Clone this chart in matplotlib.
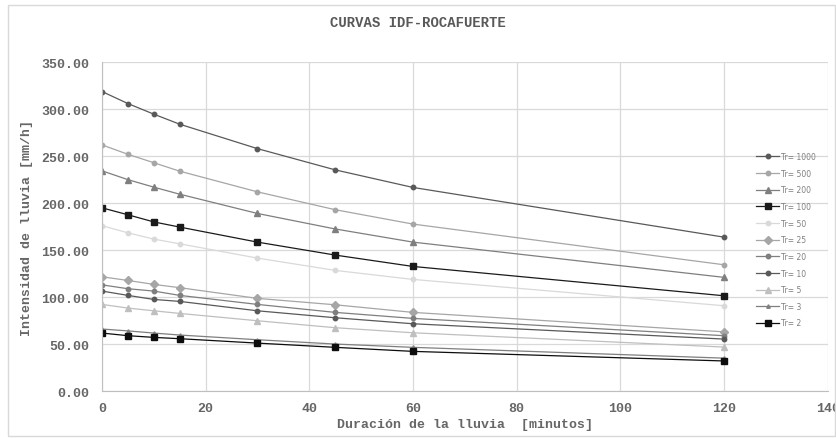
import numpy as np
import matplotlib.pyplot as plt
from matplotlib.patches import Rectangle

# Duraciones (minutos) e intensidades (mm/h) por periodo de retorno
duracion = [0, 5, 10, 15, 30, 45, 60, 120]

tr1000 = [318.8, 306.0, 294.7, 284.0, 258.0, 235.4, 216.7, 163.8]
tr500 = [262.0, 252.0, 243.0, 234.0, 212.0, 193.0, 177.7, 134.4]
tr200 = [234.4, 225.0, 217.0, 209.5, 189.0, 172.5, 158.5, 121.0]
tr100 = [195.0, 187.6, 180.0, 174.5, 158.5, 144.7, 132.6, 101.4]
tr50 = [176.0, 168.4, 161.7, 156.7, 141.5, 128.4, 118.8, 90.8]
tr25 = [121.6, 117.7, 113.5, 110.0, 98.6, 91.8, 83.7, 63.0]
tr20 = [113.0, 108.9, 106.4, 101.8, 92.2, 83.7, 77.3, 58.9]
tr10 = [106.4, 101.8, 97.5, 95.4, 85.4, 78.0, 71.6, 55.3]
tr5 = [92.2, 88.3, 85.4, 82.6, 74.8, 67.4, 62.0, 46.8]
tr3 = [66.0, 64.0, 61.7, 59.6, 54.6, 50.0, 46.5, 35.0]
tr2 = [61.7, 58.9, 57.1, 55.7, 51.0, 46.5, 42.2, 32.0]

etiquetas = ['Tr= 1000', 'Tr= 500', 'Tr= 200', 'Tr= 100', 'Tr= 50', 'Tr= 25',
             'Tr= 20', 'Tr= 10', 'Tr= 5', 'Tr= 3', 'Tr= 2']
series = [tr1000, tr500, tr200, tr100, tr50, tr25, tr20, tr10, tr5, tr3, tr2]

estilos = [
    ('#595959', 'o', 3.2),
    ('#a6a6a6', 'o', 3.2),
    ('#7f7f7f', '^', 4.5),
    ('#1a1a1a', 's', 4.2),
    ('#d9d9d9', 'o', 3.2),
    ('#a6a6a6', 'D', 4.5),
    ('#7f7f7f', 'o', 3.2),
    ('#595959', 'o', 3.2),
    ('#bfbfbf', '^', 4.5),
    ('#7f7f7f', '^', 2.5),
    ('#0d0d0d', 's', 4.8),
]

mono = 'Liberation Mono'
gris = '#666666'

fig = plt.figure(figsize=(8.36, 4.39), dpi=100)
ax = fig.add_axes([0.122, 0.107, 0.868, 0.749])

for y, lab, (c, m, ms) in zip(series, etiquetas, estilos):
    ax.plot(duracion, y, color=c, marker=m, markersize=ms, linewidth=0.9, label=lab)

ax.set_xlim(0, 140)
ax.set_ylim(0, 350)
ax.set_xticks(np.arange(0, 141, 20))
ax.set_yticks(np.arange(0, 351, 50))
ax.set_yticklabels(['%.2f' % v for v in np.arange(0, 351, 50)])
ax.grid(True, color='#d9d9d9', linewidth=0.9)
ax.set_axisbelow(True)

for s in ['top', 'right']:
    ax.spines[s].set_visible(False)
for s in ['left', 'bottom']:
    ax.spines[s].set_color('#bfbfbf')

ax.tick_params(length=0, labelsize=9.5, labelcolor=gris)
ax.tick_params(axis='y', pad=9)
ax.tick_params(axis='x', pad=8)
for t in ax.get_xticklabels() + ax.get_yticklabels():
    t.set_fontfamily(mono)
    t.set_fontweight('bold')

ax.set_xlabel('Duración de la lluvia  [minutos]', family=mono, fontweight='bold',
              fontsize=9.5, color=gris, labelpad=3)
ax.set_ylabel('Intensidad de lluvia [mm/h]', family=mono, fontweight='bold',
              fontsize=9.5, color=gris, labelpad=6)
fig.text(0.5, 0.948, 'CURVAS IDF-ROCAFUERTE', family=mono, fontweight='bold',
         fontsize=10, color='#595959', ha='center', va='center')

leg = ax.legend(loc='upper left', bbox_to_anchor=(0.900, 0.660),
                bbox_transform=fig.transFigure, frameon=False, fontsize=5.5,
                handlelength=3.0, handletextpad=0.3, labelspacing=1.0,
                borderpad=0, labelcolor='#7f7f7f')

# borde del grafico
fig.patches.append(Rectangle((0.010, 0.005), 0.989, 0.981, transform=fig.transFigure,
                             fill=False, edgecolor='#d9d9d9', linewidth=1.0))

plt.savefig('out.png', dpi=100)
